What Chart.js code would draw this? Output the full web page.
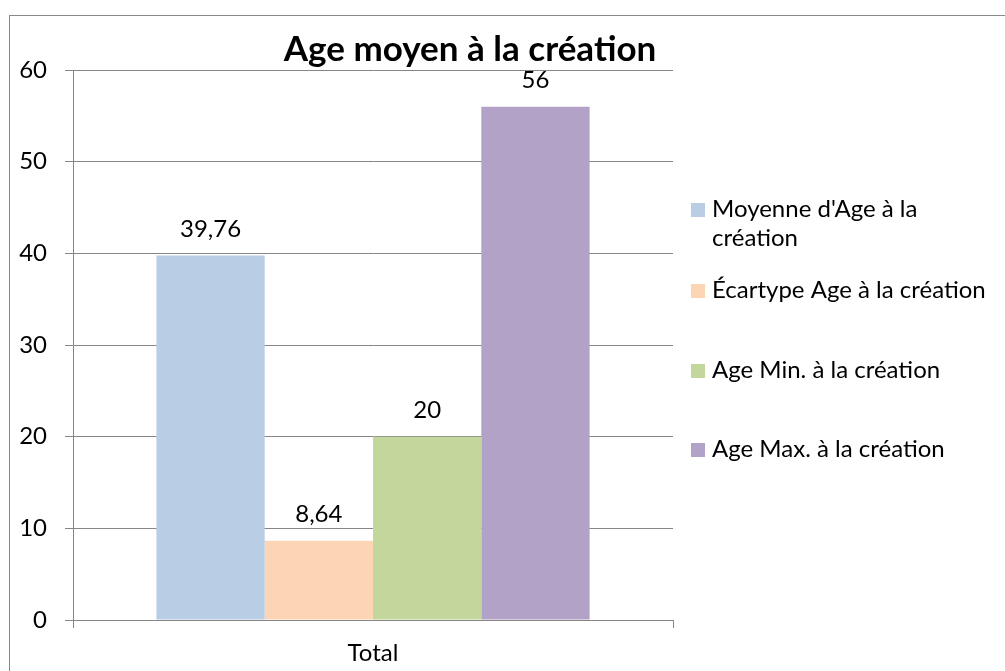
<!DOCTYPE html>
<html>
<head>
<meta charset="utf-8">
<script src="https://cdn.jsdelivr.net/npm/chart.js@4.4.1/dist/chart.umd.min.js"></script>
<style>
  html, body { margin: 0; padding: 0; background: #fff; }
  #c { display: block; }
</style>
</head>
<body>
<canvas id="c" width="1005" height="671"></canvas>
<script>
// ---- data ----
const TITLE = "Age moyen à la création";
const categories = ["Total"];
const seriesLabels = [
  "Moyenne d'Age à la création",
  "Écartype Age à la création",
  "Age Min. à la création",
  "Age Max. à la création"
];
const moyenne = [39.76];
const ecartype = [8.64];
const ageMin = [20];
const ageMax = [56];
const yTicks = [0, 10, 20, 30, 40, 50, 60];

const colors = ["#B9CDE5", "#FCD5B5", "#C3D69B", "#B3A2C7"];
const seriesValues = [moyenne, ecartype, ageMin, ageMax];
const GRID = "#868686";
const FONT = "Lato";
const FS = 24;

const framePlugin = {
  id: "frame",
  beforeDraw(chart) {
    const ctx = chart.ctx;
    ctx.save();
    ctx.strokeStyle = "#898989";
    ctx.lineWidth = 1;
    ctx.strokeRect(9.5, 15.5, 1100, 1000);
    ctx.restore();
  }
};

const titlePlugin = {
  id: "customTitle",
  afterDraw(chart) {
    const ctx = chart.ctx;
    ctx.save();
    ctx.font = "bold 35px " + FONT;
    ctx.fillStyle = "#000";
    ctx.textAlign = "center";
    ctx.textBaseline = "alphabetic";
    ctx.fillText(TITLE, 470, 61);
    ctx.restore();
  }
};

const valueLabelPlugin = {
  id: "valueLabels",
  afterDatasetsDraw(chart) {
    const ctx = chart.ctx;
    ctx.save();
    ctx.font = FS + "px " + FONT;
    ctx.fillStyle = "#000";
    ctx.textAlign = "center";
    ctx.textBaseline = "alphabetic";
    chart.data.datasets.forEach((ds, i) => {
      const meta = chart.getDatasetMeta(i);
      meta.data.forEach((bar, j) => {
        const v = ds.data[j];
        const txt = String(v).replace(".", ",");
        ctx.fillText(txt, bar.x, bar.y - 19);
      });
    });
    ctx.restore();
  }
};

const legendPlugin = {
  id: "customLegend",
  afterDraw(chart) {
    const ctx = chart.ctx;
    const baselines = [217, 298, 378, 457];
    const boxX = 691, textX = 712, maxW = 285, lineH = 29;
    ctx.save();
    ctx.font = FS + "px " + FONT;
    ctx.textBaseline = "alphabetic";
    ctx.textAlign = "left";
    chart.data.datasets.forEach((ds, i) => {
      const base = baselines[i];
      ctx.fillStyle = ds.backgroundColor;
      ctx.fillRect(boxX, base - 14, 14, 14);
      ctx.fillStyle = "#000";
      const words = ds.label.split(" ");
      const lines = [];
      let cur = "";
      words.forEach(w => {
        const t = cur ? cur + " " + w : w;
        if (ctx.measureText(t).width > maxW && cur) { lines.push(cur); cur = w; }
        else cur = t;
      });
      if (cur) lines.push(cur);
      lines.forEach((ln, k) => ctx.fillText(ln, textX, base + k * lineH));
    });
    ctx.restore();
  }
};

new Chart(document.getElementById("c"), {
  type: "bar",
  data: {
    labels: categories,
    datasets: seriesLabels.map((lab, i) => ({
      label: lab,
      data: seriesValues[i],
      backgroundColor: colors[i],
      borderWidth: 0,
      categoryPercentage: 0.722,
      barPercentage: 1.0
    }))
  },
  options: {
    responsive: false,
    animation: false,
    devicePixelRatio: 1,
    layout: { padding: { left: 0, right: 332, top: 70, bottom: 0 } },
    plugins: {
      legend: { display: false },
      title: { display: false },
      tooltip: { enabled: false }
    },
    scales: {
      x: {
        offset: true,
        grid: { display: true, drawOnChartArea: false, drawTicks: true, tickLength: 8, color: GRID, offset: true },
        border: { display: true, color: GRID, width: 1 },
        ticks: { color: "#000", font: { family: FONT, size: FS }, padding: 11 },
        afterFit(scale) { scale.height = 51; }
      },
      y: {
        min: 0,
        max: 60,
        afterBuildTicks(scale) { scale.ticks = yTicks.map(v => ({ value: v })); },
        grid: { color: GRID, lineWidth: 1, drawTicks: true, tickLength: 8 },
        border: { display: true, color: GRID, width: 1 },
        ticks: { color: "#000", font: { family: FONT, size: FS }, padding: 18 },
        afterFit(scale) { scale.width = 73; }
      }
    }
  },
  plugins: [framePlugin, valueLabelPlugin, titlePlugin, legendPlugin]
});
</script>
</body>
</html>
